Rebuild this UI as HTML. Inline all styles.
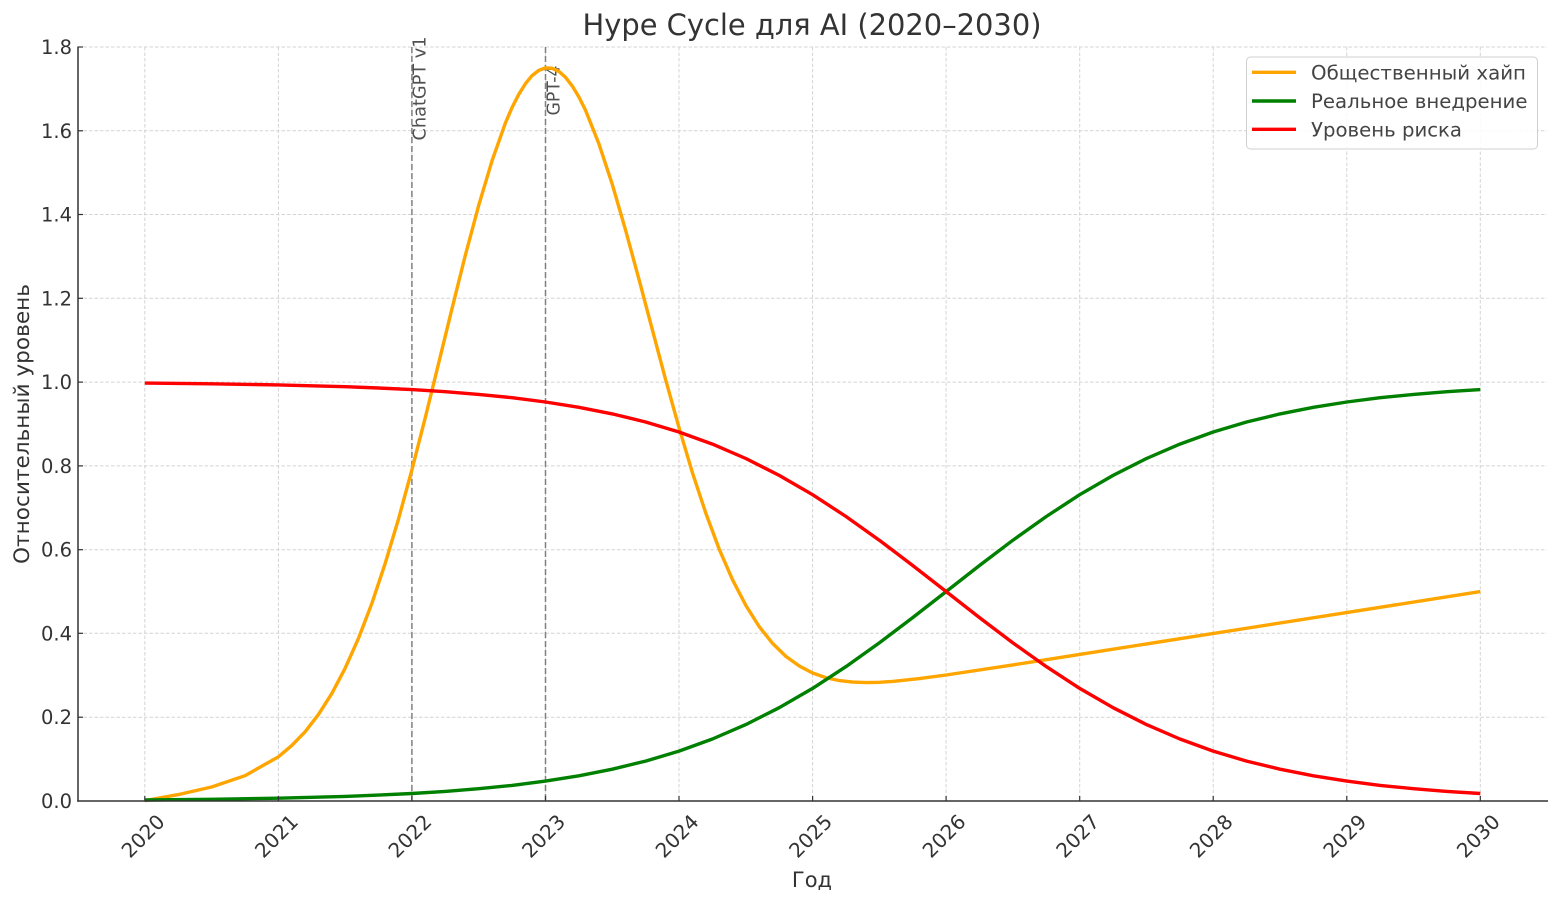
<!DOCTYPE html>
<html><head><meta charset="utf-8"><style>
html,body{margin:0;padding:0;background:#fff;}
svg{display:block;font-family:"DejaVu Sans","Liberation Sans",sans-serif;}
</style></head><body>
<svg width="1560" height="905" viewBox="0 0 1560 905" xmlns="http://www.w3.org/2000/svg">
<rect width="1560" height="905" fill="#fff"/>
<!-- grid -->
<g stroke="#d4d4d4" stroke-width="1" stroke-dasharray="3.5 2" fill="none">
<line x1="144.8" y1="47" x2="144.8" y2="801"/>
<line x1="278.4" y1="47" x2="278.4" y2="801"/>
<line x1="411.9" y1="47" x2="411.9" y2="801"/>
<line x1="545.5" y1="47" x2="545.5" y2="801"/>
<line x1="679.0" y1="47" x2="679.0" y2="801"/>
<line x1="812.6" y1="47" x2="812.6" y2="801"/>
<line x1="946.1" y1="47" x2="946.1" y2="801"/>
<line x1="1079.7" y1="47" x2="1079.7" y2="801"/>
<line x1="1213.2" y1="47" x2="1213.2" y2="801"/>
<line x1="1346.8" y1="47" x2="1346.8" y2="801"/>
<line x1="1480.3" y1="47" x2="1480.3" y2="801"/>
<line x1="78" y1="717.2" x2="1547" y2="717.2"/>
<line x1="78" y1="633.3" x2="1547" y2="633.3"/>
<line x1="78" y1="549.7" x2="1547" y2="549.7"/>
<line x1="78" y1="465.9" x2="1547" y2="465.9"/>
<line x1="78" y1="382.1" x2="1547" y2="382.1"/>
<line x1="78" y1="298.3" x2="1547" y2="298.3"/>
<line x1="78" y1="214.5" x2="1547" y2="214.5"/>
<line x1="78" y1="130.8" x2="1547" y2="130.8"/>
<line x1="78" y1="47" x2="1547" y2="47"/>
</g>
<!-- event lines -->
<g stroke="#808080" stroke-width="1.5" stroke-dasharray="6 3">
<line x1="411.9" y1="47" x2="411.9" y2="801"/>
<line x1="545.5" y1="47" x2="545.5" y2="801"/>
</g>
<g fill="#505050" font-size="17.5">
<text transform="translate(425.5,140.5) rotate(-90)" textLength="104" lengthAdjust="spacingAndGlyphs">ChatGPT v1</text>
<text transform="translate(559.5,115.5) rotate(-90)" textLength="50" lengthAdjust="spacingAndGlyphs">GPT-4</text>
</g>
<!-- series -->
<g fill="none" stroke-width="3.4" stroke-linejoin="round" stroke-linecap="butt">
<polyline stroke="#FFA500" points="144.8,800.7 178.2,794.6 211.6,787.0 245.0,775.7 278.4,756.8 291.7,745.6 305.1,731.8 318.4,714.6 331.8,693.6 345.1,668.3 358.5,638.3 371.9,603.3 385.2,563.4 398.6,518.7 411.9,469.8 425.3,417.6 438.6,363.4 452.0,308.7 465.3,255.4 478.7,205.4 492.1,160.6 505.4,123.0 512.1,107.4 518.8,94.3 525.5,83.6 532.1,75.6 538.8,70.4 545.5,67.9 552.2,68.3 558.9,71.4 565.6,77.4 572.2,85.9 578.9,97.0 585.6,110.4 598.9,143.8 612.3,184.4 625.6,230.2 639.0,279.4 652.4,329.9 665.7,379.9 679.1,427.9 692.4,472.6 705.8,513.1 719.1,548.9 732.5,579.7 745.9,605.5 759.2,626.6 772.6,643.4 785.9,656.4 799.3,666.0 812.6,673.0 826.0,677.7 839.4,680.6 852.7,682.1 866.1,682.6 879.4,682.3 892.8,681.4 919.5,678.6 946.1,675.0 1012.9,664.9 1079.7,654.4 1480.3,591.6"/>
<polyline stroke="#008000" points="144.8,800.0 211.6,799.3 278.4,798.2 345.1,796.4 378.5,795.1 411.9,793.5 445.3,791.4 478.7,788.7 512.1,785.4 545.5,781.1 578.9,775.8 612.3,769.2 645.6,761.1 679.0,751.1 712.4,739.0 745.8,724.6 779.2,707.7 812.6,688.4 846.0,666.6 879.3,642.9 912.7,617.6 946.1,591.6 979.5,565.5 1012.9,540.2 1046.3,516.5 1079.7,494.7 1113.1,475.4 1146.5,458.5 1179.9,444.1 1213.2,432.0 1246.6,422.0 1280.0,413.9 1313.4,407.3 1346.8,402.0 1380.2,397.7 1413.6,394.4 1446.9,391.7 1480.3,389.6"/>
<polyline stroke="#FF0000" points="144.8,383.1 211.6,383.8 278.4,384.9 345.1,386.7 378.5,388.0 411.9,389.6 445.3,391.7 478.7,394.4 512.1,397.7 545.5,402.0 578.9,407.3 612.3,413.9 645.6,422.0 679.0,432.0 712.4,444.1 745.8,458.5 779.2,475.4 812.6,494.7 846.0,516.5 879.3,540.2 912.7,565.5 946.1,591.5 979.5,617.6 1012.9,642.9 1046.3,666.6 1079.7,688.4 1113.1,707.7 1146.5,724.6 1179.9,739.0 1213.2,751.1 1246.6,761.1 1280.0,769.2 1313.4,775.8 1346.8,781.1 1380.2,785.4 1413.6,788.7 1446.9,791.4 1480.3,793.5"/>
</g>
<!-- axes -->
<g stroke="#333" stroke-width="1.5">
<line x1="78" y1="46.5" x2="78" y2="801.7"/>
<line x1="77.3" y1="801" x2="1548" y2="801"/>
</g>
<g stroke="#333" stroke-width="1.2">
<line x1="144.8" y1="801" x2="144.8" y2="796"/>
<line x1="278.4" y1="801" x2="278.4" y2="796"/>
<line x1="411.9" y1="801" x2="411.9" y2="796"/>
<line x1="545.5" y1="801" x2="545.5" y2="796"/>
<line x1="679.0" y1="801" x2="679.0" y2="796"/>
<line x1="812.6" y1="801" x2="812.6" y2="796"/>
<line x1="946.1" y1="801" x2="946.1" y2="796"/>
<line x1="1079.7" y1="801" x2="1079.7" y2="796"/>
<line x1="1213.2" y1="801" x2="1213.2" y2="796"/>
<line x1="1346.8" y1="801" x2="1346.8" y2="796"/>
<line x1="1480.3" y1="801" x2="1480.3" y2="796"/>
<line x1="78" y1="717.2" x2="83" y2="717.2"/>
<line x1="78" y1="633.3" x2="83" y2="633.3"/>
<line x1="78" y1="549.7" x2="83" y2="549.7"/>
<line x1="78" y1="465.9" x2="83" y2="465.9"/>
<line x1="78" y1="382.1" x2="83" y2="382.1"/>
<line x1="78" y1="298.3" x2="83" y2="298.3"/>
<line x1="78" y1="214.5" x2="83" y2="214.5"/>
<line x1="78" y1="130.8" x2="83" y2="130.8"/>
<line x1="78" y1="47" x2="83" y2="47"/>
</g>
<!-- y tick labels -->
<g fill="#333" font-size="19.5" text-anchor="end">
<text x="72" y="808">0.0</text>
<text x="72" y="724.2">0.2</text>
<text x="72" y="640.3">0.4</text>
<text x="72" y="556.7">0.6</text>
<text x="72" y="472.9">0.8</text>
<text x="72" y="389.1">1.0</text>
<text x="72" y="305.3">1.2</text>
<text x="72" y="221.5">1.4</text>
<text x="72" y="137.8">1.6</text>
<text x="72" y="54">1.8</text>
</g>
<!-- x tick labels -->
<g fill="#333" font-size="20" text-anchor="middle">
<text transform="translate(143,836) rotate(-45)" dy="7">2020</text>
<text transform="translate(276.4,836) rotate(-45)" dy="7">2021</text>
<text transform="translate(409.9,836) rotate(-45)" dy="7">2022</text>
<text transform="translate(543.5,836) rotate(-45)" dy="7">2023</text>
<text transform="translate(677,836) rotate(-45)" dy="7">2024</text>
<text transform="translate(810.6,836) rotate(-45)" dy="7">2025</text>
<text transform="translate(944.1,836) rotate(-45)" dy="7">2026</text>
<text transform="translate(1077.7,836) rotate(-45)" dy="7">2027</text>
<text transform="translate(1211.2,836) rotate(-45)" dy="7">2028</text>
<text transform="translate(1344.8,836) rotate(-45)" dy="7">2029</text>
<text transform="translate(1478.3,836) rotate(-45)" dy="7">2030</text>
</g>
<!-- labels -->
<text x="812" y="35" fill="#333" font-size="29" text-anchor="middle" textLength="459" lengthAdjust="spacingAndGlyphs">Hype Cycle для AI (2020–2030)</text>
<text x="812" y="887" fill="#333" font-size="21" text-anchor="middle">Год</text>
<text transform="translate(29,424) rotate(-90)" fill="#333" font-size="21" text-anchor="middle" textLength="280" lengthAdjust="spacingAndGlyphs">Относительный уровень</text>
<!-- legend -->
<rect x="1246.5" y="57" width="291" height="92" rx="4" ry="4" fill="#fff" fill-opacity="0.85" stroke="#d0d0d0" stroke-width="1"/>
<g stroke-width="3.4">
<line x1="1252" y1="72.3" x2="1296" y2="72.3" stroke="#FFA500"/>
<line x1="1252" y1="101" x2="1296" y2="101" stroke="#008000"/>
<line x1="1252" y1="129.3" x2="1296" y2="129.3" stroke="#FF0000"/>
</g>
<g fill="#444" font-size="19.5">
<text x="1311" y="79.3" textLength="215" lengthAdjust="spacingAndGlyphs">Общественный хайп</text>
<text x="1311" y="108" textLength="216.5" lengthAdjust="spacingAndGlyphs">Реальное внедрение</text>
<text x="1311" y="136.3" textLength="151" lengthAdjust="spacingAndGlyphs">Уровень риска</text>
</g>
</svg>
</body></html>
